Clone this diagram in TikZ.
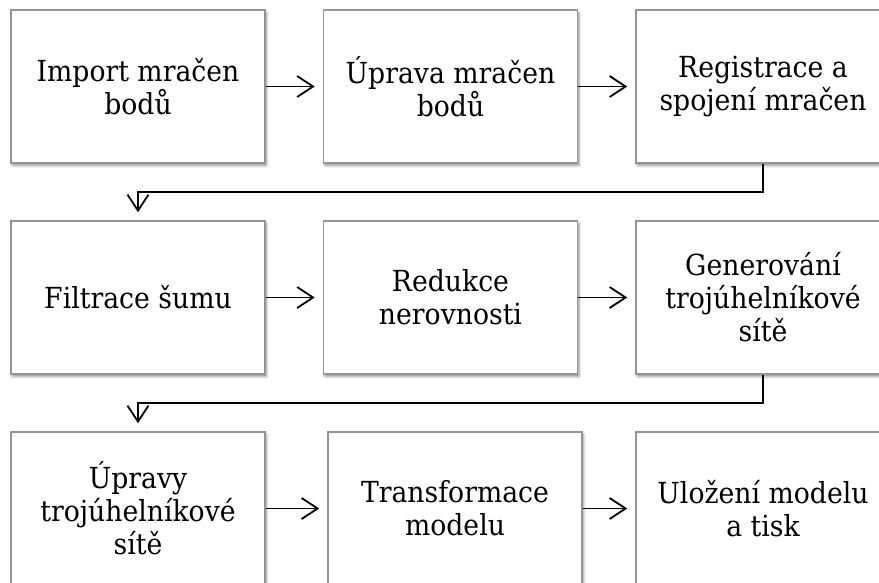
\documentclass[tikz,border=0pt]{standalone}
\usepackage{fontspec}
\setmainfont[FakeStretch=0.92]{DejaVu Serif}
\usetikzlibrary{arrows.meta,shadows.blur}
\begin{document}
\begin{tikzpicture}[x=1pt,y=-1pt,
  box/.style={draw=black!42, line width=1.5pt, fill=white,
    minimum width=254pt, minimum height=153pt, inner sep=0pt,
    align=center, font=\fontsize{29}{33}\selectfont,
    blur shadow={shadow xshift=1.5pt, shadow yshift=-2.5pt, shadow blur radius=2.5pt, shadow opacity=45}},
  arr/.style={line width=1.8pt, shorten >=8pt,
    -{Straight Barb[length=16pt,width=21pt,line width=1.8pt]}}]
\useasboundingbox (0,0) rectangle (879,582);
\node[box] (b1) at (138,86.5) {Import mračen\\bodů};
\node[box] (b2) at (450.5,86.5) {Úprava mračen\\bodů};
\node[box] (b3) at (763,86.5) {Registrace a\\spojení mračen};
\node[box] (b4) at (138,297.5) {Filtrace šumu};
\node[box] (b5) at (450.5,297.5) {Redukce\\nerovnosti};
\node[box] (b6) at (763,297.5) {Generování\\trojúhelníkové\\sítě};
\node[box] (b7) at (138,508.5) {Úpravy\\trojúhelníkové\\sítě};
\node[box] (b8) at (455,508.5) {Transformace\\modelu};
\node[box] (b9) at (763,508.5) {Uložení modelu\\a tisk};
\draw[arr] (b1) -- (b2);
\draw[arr] (b2) -- (b3);
\draw[arr] (b4) -- (b5);
\draw[arr] (b5) -- (b6);
\draw[arr] (b7) -- (b8);
\draw[arr] (b8) -- (b9);
\draw[arr] (b3.south) -- ++(0,28) -| (b4.north);
\draw[arr] (b6.south) -- ++(0,28) -| (b7.north);
\end{tikzpicture}
\end{document}
